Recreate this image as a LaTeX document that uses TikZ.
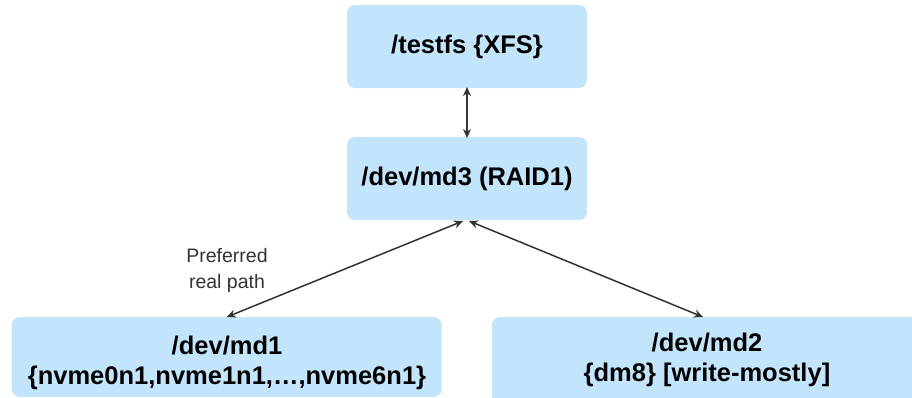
\documentclass[tikz,border=0pt]{standalone}
\usepackage{fontspec}
\setmainfont{Liberation Sans}
\usetikzlibrary{arrows.meta}
\definecolor{boxblue}{HTML}{C2E5FC}
\definecolor{linegray}{HTML}{333333}
\tikzset{
  blk/.style={fill=boxblue, draw=none, rounded corners=8pt, inner sep=0pt, outer sep=0pt},
  lbl/.style={font=\bfseries\fontsize{25.5}{30}\selectfont, align=center, text=black, inner sep=0pt},
  conn/.style={draw=linegray, line width=1.5pt, {Stealth[length=9pt,width=8pt]}-{Stealth[length=9pt,width=8pt]}},
  note/.style={font=\fontsize{19.5}{26}\selectfont, align=center, text=linegray, inner sep=0pt}
}
\begin{document}
\begin{tikzpicture}[x=1pt,y=-1pt]
\useasboundingbox (0,0) rectangle (912,397);
\clip (0,0) rectangle (912,397);
\node[blk, minimum width=240pt, minimum height=83pt] (fs) at (467,46.5) {};
\node[lbl] (fst) at (467,47) {/testfs \{XFS\}};
\node[blk, minimum width=240pt, minimum height=83pt] (md3) at (467,178.5) {};
\node[lbl] (md3t) at (467,179) {/dev/md3 (RAID1)};
\node[blk, minimum width=430pt, minimum height=80pt] (md1) at (226.7,357) {};
\node[lbl] (md1t) at (227,363) {/dev/md1\\\{nvme0n1,nvme1n1,\dots,nvme6n1\}};
\node[blk, minimum width=430pt, minimum height=90pt] (md2) at (707,362) {};
\node[lbl] (md2t) at (707,360) {/dev/md2\\\{dm8\} [write-mostly]};
\node[note] (pref) at (227,270) {Preferred\\real path};
\draw[conn] ([yshift=1pt]fs.south) -- ([yshift=-1pt]md3.south |- md3.north);
\draw[conn] ([xshift=-4pt,yshift=-1pt]md3.south) -- (md1.north);
\draw[conn] ([xshift=2pt,yshift=-1pt]md3.south) -- ([xshift=-4pt]md2.north);
\end{tikzpicture}
\end{document}
